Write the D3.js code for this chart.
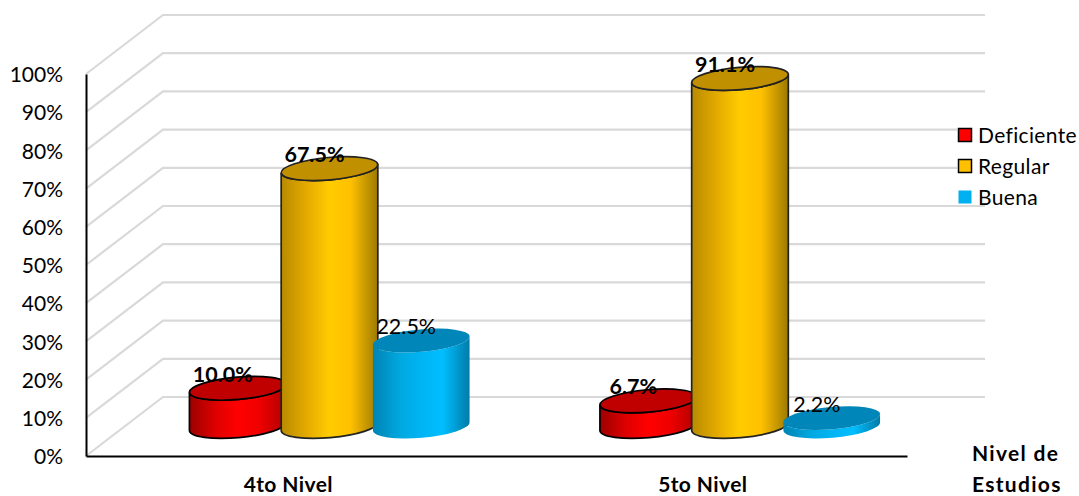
<!DOCTYPE html>
<html><head><meta charset="utf-8">
<script src="https://cdn.jsdelivr.net/npm/d3@7"></script>
<style>
html,body{margin:0;padding:0;background:#fff}
svg{display:block}
text{font-family:Lato,"Open Sans",sans-serif;fill:#000}
</style></head><body>
<svg id="c" width="1079" height="496"></svg>
<script>
const categories = ["4to Nivel","5to Nivel"];
const seriesNames = ["Deficiente","Regular","Buena"];
const deficiente = [10.0,6.7];
const regular = [67.5,91.1];
const buena = [22.5,2.2];
const seriesValues = [deficiente,regular,buena];
const yTicks = [0,10,20,30,40,50,60,70,80,90,100];
const boldLabels = [true,true,false];
const sideStops = [
  ["#9c0000","#e00000","#ff0000","#f00000","#b00000"],
  ["#b88a00","#e6ad00","#ffcc00","#ffc000","#9c7a00"],
  ["#0084b4","#00a8e0","#00b4f4","#00beff","#007ba8"]
];
const capColors = ["#c00000","#c09000","#0086b8"];
const edgeColors = ["#000","#222",null];

const svg = d3.select("#c");
const plotLeft=86,plotRight=907,plotTop=74,plotBottom=456,dx=77,dy=-59;
const y = d3.scaleLinear().domain([0,100]).range([plotBottom,plotTop]);
const x0 = d3.scaleBand().domain(categories).range([plotLeft,plotRight]);
const x1 = d3.scalePoint().domain(seriesNames).range([-92,91.5]);

// walls
const grid = svg.append("g").attr("stroke","#d9d9d9").attr("stroke-width",2.2).attr("fill","none");
yTicks.forEach(t=>{
  grid.append("path").attr("d",d3.line()([[plotLeft,y(t)],[plotLeft+dx,y(t)+dy],[plotRight+dx+1,y(t)+dy]]));
});

// legend background then axes
svg.append("rect").attr("x",957).attr("y",120).attr("width",122).attr("height",75).attr("fill","#fff");

const yAxis = d3.axisLeft(y).tickValues(yTicks).tickSize(0).tickPadding(22).tickFormat(d=>d+"%");
const gy = svg.append("g").attr("transform",`translate(${plotLeft},0)`).call(yAxis);
gy.select(".domain").attr("stroke","#000").attr("stroke-width",2);
gy.selectAll("text").attr("font-size",21).attr("x",-23).attr("dy","0.37em").style("font-family","Lato");

const xAxis = d3.axisBottom(x0).tickSize(0).tickPadding(21);
const gx = svg.append("g").attr("transform",`translate(0,${plotBottom})`).call(xAxis);
gx.select(".domain").attr("stroke","#000").attr("stroke-width",2);
gx.selectAll("text").attr("font-size",21).attr("font-weight",700).attr("letter-spacing",0.4)
  .attr("dx",(d,i)=>i===0?-3:1).style("font-family","Lato");

// gradients
const defs = svg.append("defs");
sideStops.forEach((st,i)=>{
  const g = defs.append("linearGradient").attr("id","g"+i).attr("x1",0).attr("x2",1).attr("y1",0).attr("y2",0);
  [0,.28,.5,.72,1].forEach((o,k)=>g.append("stop").attr("offset",o).attr("stop-color",st[k]));
});

// cylinders
const rx=48.5, ry=11.2, tilt=-5, a=tilt*Math.PI/180;
const ca=Math.cos(a)*rx, sa=Math.sin(a)*rx;
const bars = svg.append("g");
const labels = [];
categories.forEach((c,ci)=>{
  seriesNames.forEach((s,si)=>{
    const v = seriesValues[si][ci];
    const cx = x0(c)+x0.bandwidth()/2+dx/2+x1(s);
    const yb = y(0)+dy/2, yt = y(v)+dy/2;
    const g = bars.append("g");
    const edge = edgeColors[si];
    g.append("path")
      .attr("d",`M${cx-ca},${yt-sa}L${cx-ca},${yb-sa}A${rx},${ry} ${tilt} 0 0 ${cx+ca},${yb+sa}L${cx+ca},${yt+sa}A${rx},${ry} ${tilt} 0 1 ${cx-ca},${yt-sa}Z`)
      .attr("fill",`url(#g${si})`)
      .attr("stroke",edge||"none").attr("stroke-width",1.7);
    g.append("ellipse").attr("rx",rx).attr("ry",ry)
      .attr("transform",`translate(${cx},${yt}) rotate(${tilt})`)
      .attr("fill",capColors[si])
      .attr("stroke",edge||"none").attr("stroke-width",1.7);
    labels.push({cx:cx-15,y:yt-14.5,t:v.toFixed(1)+"%",b:boldLabels[si]});
  });
});

// data labels
svg.append("g").selectAll("text").data(labels).join("text")
  .attr("x",d=>d.cx).attr("y",d=>d.y).attr("text-anchor","middle").attr("dominant-baseline","central")
  .attr("font-size",21.5).attr("font-weight",d=>d.b?700:400).text(d=>d.t);

// legend
const ly = d3.scalePoint().domain(seriesNames).range([135,197]);
const legendFill = ["#ff0000","#ffc000","#00b0f0"];
const lg = svg.append("g").selectAll("g").data(seriesNames).join("g")
  .attr("transform",d=>`translate(958,${ly(d)})`);
lg.append("rect").attr("x",0.5).attr("y",-6.5).attr("width",13).attr("height",13)
  .attr("fill",(d,i)=>legendFill[i]).attr("stroke",(d,i)=>edgeColors[i]?"#000":"none").attr("stroke-width",1.5);
lg.append("text").attr("x",20).attr("y",-1).attr("dominant-baseline","central").attr("font-size",21).attr("letter-spacing",0.35).text(d=>d);

// axis title
svg.append("text").attr("x",972).attr("y",452).attr("dominant-baseline","central").attr("font-size",21).attr("font-weight",700).attr("letter-spacing",1.3).text("Nivel de");
svg.append("text").attr("x",972).attr("y",483).attr("dominant-baseline","central").attr("font-size",21).attr("font-weight",700).attr("letter-spacing",1.3).text("Estudios");
</script>
</body></html>
